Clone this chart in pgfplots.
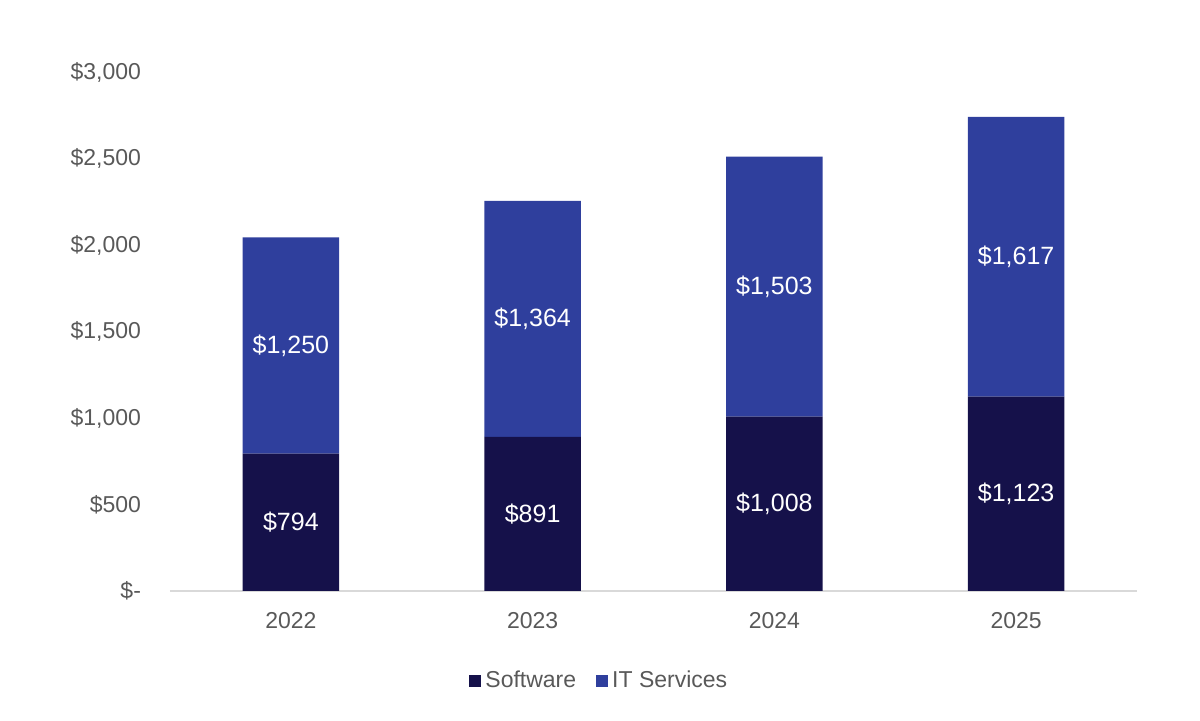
\documentclass[border=0pt]{standalone}
\usepackage{pgfplots}
\pgfplotsset{compat=1.18}
\usepackage{fontspec}
\setmainfont{Liberation Sans}
\definecolor{sw}{HTML}{15114A}
\definecolor{its}{HTML}{2F3F9D}
\definecolor{txt}{HTML}{595959}
\begin{document}
\begin{tikzpicture}
\pgfplotsset{base/.style={scale only axis, width=483.5pt, height=259.5pt,
  xmin=-0.5, xmax=3.5, ymin=0, ymax=3000,
  /pgf/number format/assume math mode=true}}
\begin{axis}[base, name=ax, ybar stacked, bar width=0.4,
  axis x line*=bottom, axis y line*=left,
  y axis line style={draw=none}, x axis line style={draw=black!15, line width=0.8pt},
  major tick length=0, xtick={0,1,2,3}, xticklabels={2022,2023,2024,2025},
  ytick={0,500,1000,1500,2000,2500,3000},
  yticklabels={\$-,\$500,\$1{,}000,\$1{,}500,\$2{,}000,\$2{,}500,\$3{,}000},
  ticklabel style={font=\fontsize{11.5}{13}\selectfont, text=txt},
  yticklabel style={xshift=-11pt}, xticklabel style={yshift=-7pt},
  legend style={at={(0.445,-0.173)}, anchor=center, draw=none, legend columns=-1,
    font=\fontsize{11.5}{13}\selectfont, text=txt, /tikz/every even column/.append style={column sep=8pt}},
  legend image code/.code={\fill[#1] (0pt,-3pt) rectangle (6pt,3pt);},
  ]
\addplot[fill=sw, draw=none] coordinates {(0,794) (1,891) (2,1008) (3,1123)};
\addplot[fill=its, draw=none] coordinates {(0,1250) (1,1364) (2,1503) (3,1617)};
\legend{Software, IT Services}
\end{axis}
\begin{axis}[base, hide axis]
\addplot[draw=none, mark=none, nodes near coords, point meta=explicit symbolic,
  every node near coord/.style={anchor=center, text=white, font=\fontsize{12.5}{14}\selectfont}]
  coordinates {(0,397)[\$794] (1,445.5)[\$891] (2,504)[\$1,008] (3,561.5)[\$1,123]
  (0,1419)[\$1,250] (1,1573)[\$1,364] (2,1759.5)[\$1,503] (3,1931.5)[\$1,617]};
\end{axis}
\pgfresetboundingbox
\path ([shift={(-85pt,-65pt)}]ax.south west) rectangle ([shift={(515pt,295.5pt)}]ax.south west);
\end{tikzpicture}
\end{document}
